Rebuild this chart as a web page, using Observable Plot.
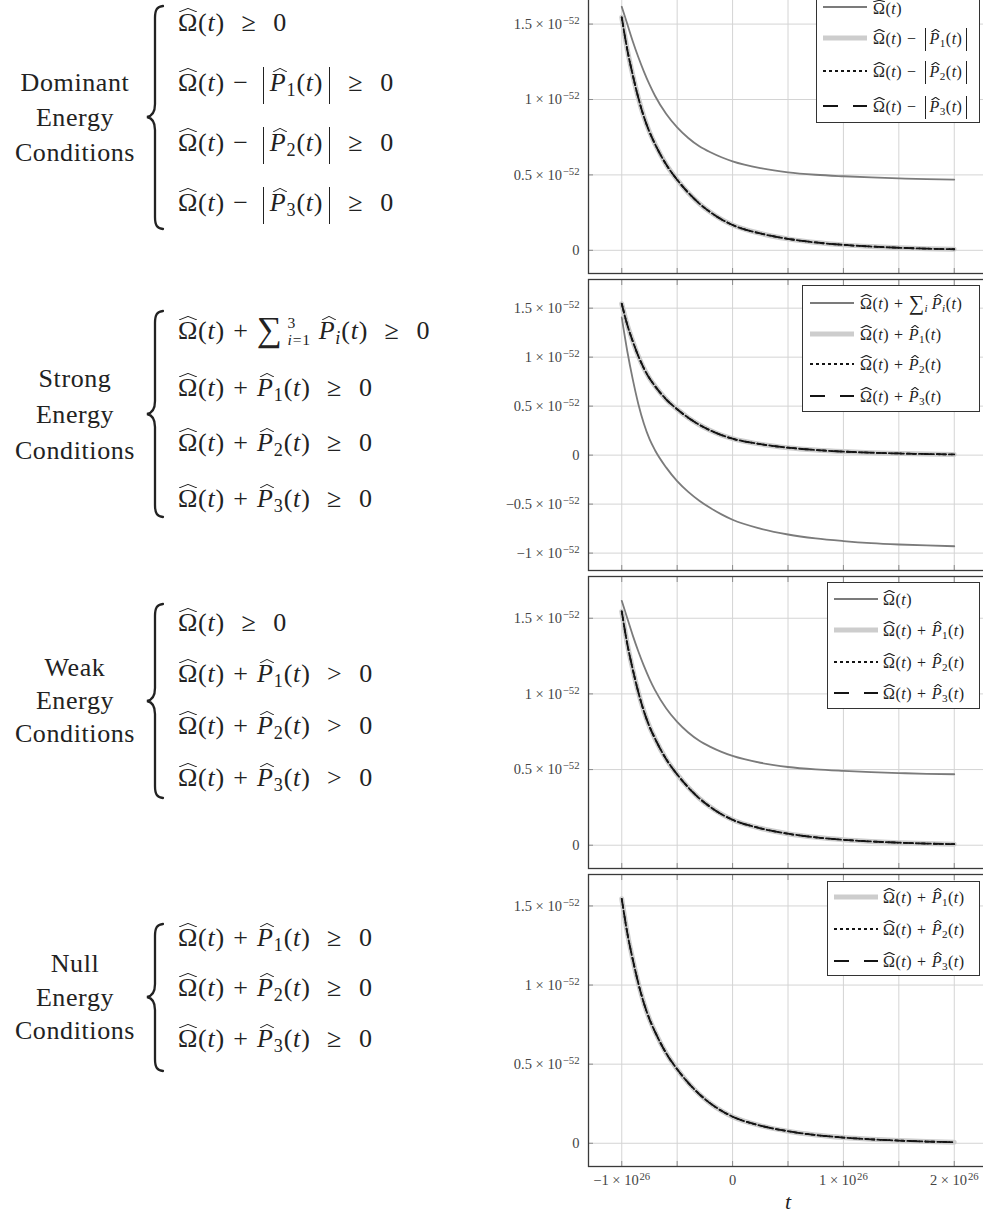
<!DOCTYPE html>
<html>
<head>
<meta charset="utf-8">
<script src="https://cdn.jsdelivr.net/npm/d3@7"></script>
<script src="https://cdn.jsdelivr.net/npm/@observablehq/plot@0.6"></script>
<style>
  html, body { margin: 0; padding: 0; background: #fff; width: 983px; height: 1224px; overflow: hidden; }
  #page { position: relative; width: 983px; height: 1224px; overflow: hidden;
          font-family: "Liberation Serif", "DejaVu Serif", serif; color: #222; }
  .panel { position: absolute; left: 488px; width: 500px; }
  .lbl { position: absolute; left: 0; width: 150px; text-align: center; font-size: 26px;
         line-height: 1; letter-spacing: 0.6px; white-space: nowrap; }
  .m { position: absolute; white-space: nowrap; line-height: 1; letter-spacing: 0.03em; }
  .m i { font-style: italic; }
  .m sub { font-size: 0.7em; vertical-align: -0.3em; line-height: 0; }
  .hat { position: relative; display: inline-block; line-height: 1; }
  .hat::before { content: ""; position: absolute; left: 4%; width: 92%; top: -0.1em; height: 0.16em;
    background: url("data:image/svg+xml;utf8,<svg xmlns='http://www.w3.org/2000/svg' viewBox='0 0 100 10' preserveAspectRatio='none'><polyline points='0,10 50,1 100,10' fill='none' stroke='%23222' stroke-width='1' vector-effect='non-scaling-stroke'/></svg>") 0 0 / 100% 100% no-repeat; }
  .hp::before { left: 18%; width: 86%; }
  .abs { position: relative; display: inline-block; line-height: 1; padding: 0 0.27em; margin: 0 0.06em 0 0.22em; }
  .abs::before, .abs::after { content: ""; position: absolute; top: -0.14em; bottom: -0.3em; border-left: 1.1px solid #222; }
  .abs::before { left: 0; } .abs::after { right: 0; }
  .op { margin: 0 0.32em; }
  .rel { margin: 0 0.65em 0 0.63em; }
  .sum { font-size: 1.35em; line-height: 0; vertical-align: -0.06em; }
  .lim { display: inline-block; font-size: 0.6em; line-height: 1.12; vertical-align: -0.4em;
         margin: -3em 0.5em -3em 0.3em; text-align: left; }
  .lim > span { display: block; }
  .lg { position: absolute; background: #fff; border: 1.2px solid #333; box-sizing: border-box; }
  .sw { position: absolute; }
</style>
</head>
<body>
<div id="page"></div>
<script>
// ---- data: cosmic time t (s) and the energy-condition combinations ----
const tSamples = [-1e26, -0.95e26, -0.9e26, -0.85e26, -0.8e26, -0.75e26, -0.7e26, -0.6e26, -0.5e26,
  -0.4e26, -0.3e26, -0.2e26, -0.1e26, 0, 0.25e26, 0.5e26, 0.75e26, 1e26, 1.25e26, 1.5e26, 1.75e26, 2e26];

// Ω̂(t)
const omegaHat = [1.615e-52, 1.50e-52, 1.385e-52, 1.28e-52, 1.185e-52, 1.10e-52, 1.025e-52, 0.905e-52, 0.815e-52,
  0.745e-52, 0.69e-52, 0.65e-52, 0.617e-52, 0.59e-52, 0.545e-52, 0.517e-52, 0.501e-52, 0.491e-52, 0.483e-52,
  0.477e-52, 0.472e-52, 0.469e-52];

// Ω̂(t) + P̂_i(t), identical for i = 1, 2, 3 (P̂_i < 0, so it also equals Ω̂ − |P̂_i|)
const omegaPlusP = [1.545e-52, 1.33e-52, 1.16e-52, 1.01e-52, 0.885e-52, 0.785e-52, 0.705e-52, 0.57e-52, 0.468e-52,
  0.382e-52, 0.31e-52, 0.252e-52, 0.205e-52, 0.168e-52, 0.112e-52, 0.076e-52, 0.052e-52, 0.036e-52, 0.025e-52,
  0.017e-52, 0.011e-52, 0.007e-52];

// Ω̂(t) + Σ_i P̂_i(t)
const omegaPlusSumP = [1.405e-52, 1.06e-52, 0.77e-52, 0.52e-52, 0.32e-52, 0.165e-52, 0.05e-52, -0.125e-52, -0.265e-52,
  -0.375e-52, -0.465e-52, -0.54e-52, -0.605e-52, -0.66e-52, -0.75e-52, -0.81e-52, -0.85e-52, -0.877e-52, -0.898e-52,
  -0.912e-52, -0.922e-52, -0.93e-52];

// ticks
const xGridTicks = [-1e26, -0.5e26, 0, 0.5e26, 1e26, 1.5e26, 2e26];
const xLabelTicks = [-1e26, 0, 1e26, 2e26];
const yTicksPositive = [0, 0.5e-52, 1e-52, 1.5e-52];
const yTicksSigned = [-1e-52, -0.5e-52, 0, 0.5e-52, 1e-52, 1.5e-52];

// ---- line styles ----
const lineStyles = {
  gray:   {stroke: "#7b7b7b", strokeWidth: 1.8},
  light:  {stroke: "#cdcdcd", strokeWidth: 5},
  dotted: {stroke: "#141414", strokeWidth: 1.8, strokeDasharray: "3 3"},
  dashed: {stroke: "#141414", strokeWidth: 1.8, strokeDasharray: "9 6"}
};
const swatchStyles = {
  gray:   {stroke: "#7b7b7b", width: 2},
  light:  {stroke: "#cdcdcd", width: 5},
  dotted: {stroke: "#141414", width: 1.8, dash: "3 3"},
  dashed: {stroke: "#141414", width: 1.8, dash: "15 15"}
};

const page = document.getElementById("page");

// scientific tick labels, exponent marked with ^ and raised afterwards
const sci = (unit, expText) => v => {
  const m = Math.round(v / unit * 100) / 100;
  if (m === 0) return "0";
  return `${m < 0 ? "\u2212" : ""}${Math.abs(m)} \u00d7 10^${expText}`;
};

function raiseExponents(svg) {
  svg.querySelectorAll('g[aria-label$="tick label"] text').forEach(t => {
    const s = t.textContent, k = s.indexOf("^");
    if (k < 0) return;
    t.textContent = s.slice(0, k);
    const ts = document.createElementNS("http://www.w3.org/2000/svg", "tspan");
    ts.setAttribute("dy", "-0.46em");
    ts.setAttribute("dx", "0.08em");
    ts.setAttribute("font-size", "0.74em");
    ts.textContent = s.slice(k + 1);
    t.appendChild(ts);
  });
}

function makePanel({lines, yTicks, top, height, marginBottom, xLabels}) {
  const all = lines.flatMap(l => l.values);
  const lo = d3.min(all), hi = d3.max(all), pad = 0.1 * (hi - lo);
  const t0 = d3.min(tSamples), t1 = d3.max(tSamples), tPad = 0.1 * (t1 - t0);
  const tickStroke = {stroke: "#8c8c8c", fill: "none", label: null, tickSize: -5};
  const marks = [
    Plot.gridX(xGridTicks, {stroke: "#d4d4d4", strokeOpacity: 1}),
    Plot.gridY(yTicks, {stroke: "#d4d4d4", strokeOpacity: 1}),
    Plot.axisX(xGridTicks, {anchor: "bottom", ...tickStroke}),
    Plot.axisX(xGridTicks, {anchor: "top", ...tickStroke}),
    Plot.axisY(yTicks, {anchor: "left", ...tickStroke}),
    Plot.axisY(yTicks, {anchor: "right", ...tickStroke}),
    Plot.axisY(yTicks, {anchor: "left", tickSize: 0, tickPadding: 9, label: null,
      tickFormat: sci(1e-52, "\u221252"), fill: "#444", fontSize: 14.5})
  ];
  for (const l of lines) {
    marks.push(Plot.line(tSamples.map((t, i) => ({t, v: l.values[i]})),
      {x: "t", y: "v", curve: "monotone-x", ...lineStyles[l.style]}));
  }
  if (xLabels) {
    marks.push(Plot.axisX(xLabelTicks, {anchor: "bottom", tickSize: 0, tickPadding: 8, label: null,
      tickFormat: sci(1e26, "26"), fill: "#444", fontSize: 14.5}));
    marks.push(Plot.text(["t"], {text: d => d, frameAnchor: "bottom", dy: 42,
      fontStyle: "italic", fontSize: 22, fill: "#222"}));
  }
  marks.push(Plot.frame({stroke: "#3a3a3a", strokeWidth: 1.3}));
  const svg = Plot.plot({
    width: 500, height, marginLeft: 100, marginRight: 1, marginTop: 2, marginBottom,
    style: {fontFamily: "'Liberation Serif', 'DejaVu Serif', serif", background: "transparent", maxWidth: "none"},
    x: {domain: [t0 - tPad, t1 + tPad]},
    y: {domain: [lo - pad, hi + pad]},
    marks
  });
  raiseExponents(svg);
  const div = document.createElement("div");
  div.className = "panel";
  div.style.top = top + "px";
  div.appendChild(svg);
  page.appendChild(div);
}

// ---- math snippets ----
const O = '<span class="hat">\u03a9</span>(<i>t</i>)';
const P = i => `<span class="hat hp"><i>P</i></span><sub>${i}</sub>(<i>t</i>)`;
const absP = i => `<span class="abs">${P(i)}</span>`;
const plus = '<span class="op">+</span>';
const minus = '<span class="op">\u2212</span>';
const rel = s => `<span class="rel">${s}</span>0`;

// place an absolutely positioned text block by its baseline
const ASC = 0.8375;
function placeText(cls, html, x, baseline, size) {
  const el = document.createElement("div");
  el.className = cls;
  el.innerHTML = html;
  el.style.fontSize = size + "px";
  el.style.top = (baseline - ASC * size) + "px";
  if (x !== null) el.style.left = x + "px";
  page.appendChild(el);
  return el;
}

function brace(top, bottom, cusp) {
  const ns = "http://www.w3.org/2000/svg";
  const svg = document.createElementNS(ns, "svg");
  svg.setAttribute("width", 24);
  svg.setAttribute("height", bottom - top + 8);
  svg.style.position = "absolute";
  svg.style.left = "143px";
  svg.style.top = (top - 4) + "px";
  const c = cusp - top + 4, b = bottom - top + 4;
  const path = document.createElementNS(ns, "path");
  path.setAttribute("d",
    `M20,5 C14,5.5 12,9 12,17 L12,${c - 13} C12,${c - 5} 9,${c - 1} 4,${c} ` +
    `C9,${c + 1} 12,${c + 5} 12,${c + 13} L12,${b - 13} C12,${b - 5} 14,${b - 1.5} 20,${b - 1}`);
  path.setAttribute("fill", "none");
  path.setAttribute("stroke", "#222");
  path.setAttribute("stroke-width", "2.3");
  path.setAttribute("stroke-linecap", "round");
  svg.appendChild(path);
  page.appendChild(svg);
}

function conditionGroup({words, wordBaselines, rows, rowBaselines, braceTop, braceBottom, braceCusp}) {
  words.forEach((w, i) => placeText("lbl", w, null, wordBaselines[i], 26));
  brace(braceTop, braceBottom, braceCusp);
  rows.forEach((r, i) => placeText("m", r, 178, rowBaselines[i], 26));
}

function legend({left, top, right, bottom, swatchX, textX, entries}) {
  const box = document.createElement("div");
  box.className = "lg";
  Object.assign(box.style, {left: left + "px", top: top + "px", width: (right - left) + "px", height: (bottom - top) + "px"});
  page.appendChild(box);
  for (const e of entries) {
    const s = swatchStyles[e.style];
    const svg = document.createElementNS("http://www.w3.org/2000/svg", "svg");
    svg.setAttribute("width", 44); svg.setAttribute("height", 10);
    svg.setAttribute("class", "sw");
    svg.style.left = swatchX + "px"; svg.style.top = (e.y - 5) + "px";
    const ln = document.createElementNS("http://www.w3.org/2000/svg", "line");
    ln.setAttribute("x1", 0); ln.setAttribute("x2", 44); ln.setAttribute("y1", 5); ln.setAttribute("y2", 5);
    ln.setAttribute("stroke", s.stroke); ln.setAttribute("stroke-width", s.width);
    if (s.dash) ln.setAttribute("stroke-dasharray", s.dash);
    svg.appendChild(ln);
    page.appendChild(svg);
    placeText("m", e.html, textX, e.y + (e.textDy ?? 6), 16);
  }
}

const sumRow = O + plus + '<span class="sum">\u2211</span><span class="lim"><span>3</span><span><i>i</i>=1</span></span>' +
  '<span class="hat hp"><i>P</i></span><sub><i>i</i></sub>(<i>t</i>)';
const sumLegend = O + plus + '<span class="sum">\u2211</span><sub><i>i</i></sub>&thinsp;' +
  '<span class="hat hp"><i>P</i></span><sub><i>i</i></sub>(<i>t</i>)';

// ---- left column: the four families of energy conditions ----
conditionGroup({
  words: ["Dominant", "Energy", "Conditions"], wordBaselines: [92, 127, 162],
  rows: [O + rel("\u2265"), O + minus + absP(1) + rel("\u2265"), O + minus + absP(2) + rel("\u2265"), O + minus + absP(3) + rel("\u2265")],
  rowBaselines: [32, 92, 152, 212], braceTop: 5, braceBottom: 230, braceCusp: 117
});
conditionGroup({
  words: ["Strong", "Energy", "Conditions"], wordBaselines: [388, 424, 460],
  rows: [sumRow + rel("\u2265"), O + plus + P(1) + rel("\u2265"), O + plus + P(2) + rel("\u2265"), O + plus + P(3) + rel("\u2265")],
  rowBaselines: [340, 397, 452, 508], braceTop: 310, braceBottom: 518, braceCusp: 414
});
conditionGroup({
  words: ["Weak", "Energy", "Conditions"], wordBaselines: [677, 710, 743],
  rows: [O + rel("\u2265"), O + plus + P(1) + rel(">"), O + plus + P(2) + rel(">"), O + plus + P(3) + rel(">")],
  rowBaselines: [632, 683, 735, 787], braceTop: 603, braceBottom: 799, braceCusp: 701
});
conditionGroup({
  words: ["Null", "Energy", "Conditions"], wordBaselines: [973, 1007, 1040],
  rows: [O + plus + P(1) + rel("\u2265"), O + plus + P(2) + rel("\u2265"), O + plus + P(3) + rel("\u2265")],
  rowBaselines: [947, 997, 1048], braceTop: 923, braceBottom: 1072, braceCusp: 997
});

// ---- right column: the four panels ----
makePanel({top: -20, height: 295, marginBottom: 2, yTicks: yTicksPositive, lines: [
  {values: omegaHat, style: "gray"}, {values: omegaPlusP, style: "light"},
  {values: omegaPlusP, style: "dotted"}, {values: omegaPlusP, style: "dashed"}]});
makePanel({top: 277, height: 295, marginBottom: 2, yTicks: yTicksSigned, lines: [
  {values: omegaPlusSumP, style: "gray"}, {values: omegaPlusP, style: "light"},
  {values: omegaPlusP, style: "dotted"}, {values: omegaPlusP, style: "dashed"}]});
makePanel({top: 574, height: 296, marginBottom: 2, yTicks: yTicksPositive, lines: [
  {values: omegaHat, style: "gray"}, {values: omegaPlusP, style: "light"},
  {values: omegaPlusP, style: "dotted"}, {values: omegaPlusP, style: "dashed"}]});
makePanel({top: 872, height: 352, marginBottom: 58, yTicks: yTicksPositive, xLabels: true, lines: [
  {values: omegaPlusP, style: "light"}, {values: omegaPlusP, style: "dotted"}, {values: omegaPlusP, style: "dashed"}]});

// ---- legends ----
legend({left: 816, top: -11, right: 980, bottom: 123, swatchX: 823, textX: 873, entries: [
  {y: 7, textDy: 7.5, style: "gray", html: O},
  {y: 38, style: "light", html: O + minus + absP(1)},
  {y: 71, style: "dotted", html: O + minus + absP(2)},
  {y: 106, style: "dashed", html: O + minus + absP(3)}]});
legend({left: 802, top: 285, right: 980, bottom: 412, swatchX: 810, textX: 860, entries: [
  {y: 303, style: "gray", html: sumLegend},
  {y: 334, style: "light", html: O + plus + P(1)},
  {y: 364, style: "dotted", html: O + plus + P(2)},
  {y: 396, style: "dashed", html: O + plus + P(3)}]});
legend({left: 827, top: 582, right: 980, bottom: 709, swatchX: 834, textX: 883, entries: [
  {y: 599, style: "gray", html: O},
  {y: 630, style: "light", html: O + plus + P(1)},
  {y: 662, style: "dotted", html: O + plus + P(2)},
  {y: 693, style: "dashed", html: O + plus + P(3)}]});
legend({left: 827, top: 881, right: 980, bottom: 976, swatchX: 834, textX: 883, entries: [
  {y: 897, style: "light", html: O + plus + P(1)},
  {y: 929, style: "dotted", html: O + plus + P(2)},
  {y: 961, style: "dashed", html: O + plus + P(3)}]});
</script>
</body>
</html>
